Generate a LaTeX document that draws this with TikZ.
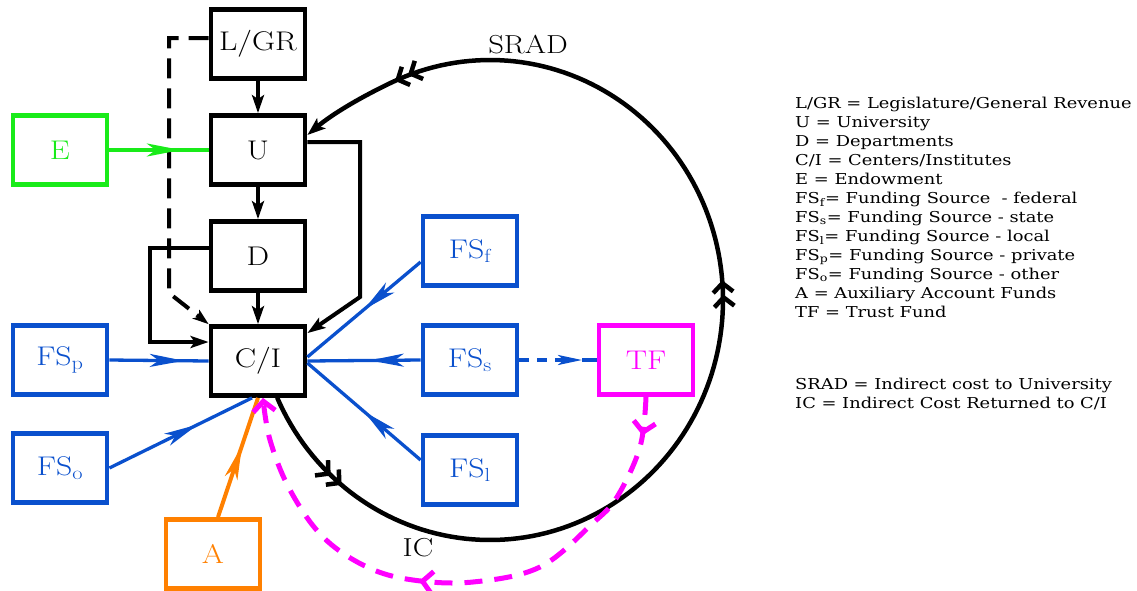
\documentclass[tikz,border=0pt]{standalone}
\usepackage{fontspec}
\usepackage{graphicx}
\usetikzlibrary{arrows.meta,decorations.markings}
\newfontfamily\legfont{DejaVu Serif}
\definecolor{fsblue}{RGB}{10,80,205}
\definecolor{egreen}{RGB}{25,235,25}
\definecolor{aorange}{RGB}{255,128,0}
\definecolor{tfmag}{RGB}{255,0,255}
\newcommand{\widetext}[1]{\scalebox{1.18}[1]{#1}}
\newcommand{\legtext}[1]{\scalebox{1.19}[1]{#1}}
\tikzset{
  box/.style={draw, line width=4.8pt, minimum width=94pt, minimum height=69pt, inner sep=0pt, font=\fontsize{27}{30}\selectfont},
  bluebox/.style={box, draw=fsblue, text=fsblue},
  greenbox/.style={box, draw=egreen, text=egreen},
  orangebox/.style={box, draw=aorange, text=aorange},
  magbox/.style={box, draw=tfmag, text=tfmag},
  conn/.style={line width=4pt},
  blacktip/.style={-{Stealth[length=18pt,width=12pt,inset=4pt]}},
  colconn/.style={line width=3.3pt},
  midarrow/.style={postaction={decorate,decoration={markings,mark=at position #1 with {\arrow{Stealth[length=34pt,width=13pt,inset=9pt]}}}}},
  ellmarks/.style={postaction={decorate,decoration={markings,
     mark=at position 0.09 with {\arrow{Straight Barb[length=9pt,width=20pt]Straight Barb[length=9pt,width=20pt]}},
     mark=at position 0.545 with {\arrow{Straight Barb[length=9pt,width=20pt]Straight Barb[length=9pt,width=20pt]}},
     mark=at position 0.915 with {\arrow{Straight Barb[length=9pt,width=20pt]Straight Barb[length=9pt,width=20pt]}}}}},
  magmarks/.style={postaction={decorate,decoration={markings,
     mark=at position 0.065 with {\arrow{Straight Barb[length=10pt,width=22pt]}},
     mark=at position 0.56 with {\arrow{Straight Barb[length=10pt,width=22pt]}}}}},
  legend/.style={inner sep=0pt, font=\legfont\fontsize{15}{17}\selectfont},
  lbl/.style={inner sep=0pt, font=\fontsize{26}{30}\selectfont},
}
\begin{document}
\begin{tikzpicture}[x=1pt,y=-1pt]
\useasboundingbox (0,0) rectangle (1137,590);

% boxes
\node[box] (LGR) at (258,44) {\widetext{L/GR}};
\node[box] (U) at (258,150) {\widetext{U}};
\node[box] (D) at (258,256) {\widetext{D}};
\node[box] (CI) at (258,361) {\widetext{C/I}};
\node[greenbox] (E) at (60,150) {\widetext{E}};
\node[bluebox] (FSp) at (60,360) {\widetext{FS\textsubscript{p}}};
\node[bluebox] (FSo) at (60,468) {\widetext{FS\textsubscript{o}}};
\node[orangebox] (A) at (213,554) {\widetext{A}};
\node[bluebox] (FSf) at (470,251) {\widetext{FS\textsubscript{f}}};
\node[bluebox] (FSs) at (470,360) {\widetext{FS\textsubscript{s}}};
\node[bluebox] (FSl) at (470,470) {\widetext{FS\textsubscript{l}}};
\node[magbox] (TF) at (646,360) {\widetext{TF}};

% labels
\node[lbl] (srad) at (528,45) {\widetext{SRAD}};
\node[lbl] (ic) at (418,548) {\widetext{IC}};

% coordinates
\coordinate (bendUR) at (360,297);
\coordinate (bendDL) at (150,342);
\coordinate (dashB) at (169,293);
\coordinate (tfm) at (582,360);

% black connectors
\draw[conn, blacktip] (LGR.south) -- (U.north);
\draw[conn, blacktip] (U.south) -- (D.north);
\draw[conn, blacktip] (D.south) -- (CI.north);
\draw[conn, blacktip] ([yshift=8pt]U.east) -| (bendUR) -- ([yshift=-9pt]CI.north east);
\draw[conn, blacktip] ([yshift=8pt]D.west) -| (bendDL) -- ([yshift=19pt]CI.west);
\draw[conn, dash pattern=on 20pt off 10pt, -{Stealth[length=16pt,width=11pt,inset=4pt]}] ([yshift=6pt]LGR.west) -| (dashB) -- (CI.north west);

% coloured inflows
\draw[colconn, egreen, midarrow=0.72] (E.east) -- (U.west);
\draw[colconn, fsblue, midarrow=0.75] (FSp.east) -- (CI.west);
\draw[colconn, fsblue, midarrow=0.62] (FSo.east) -- ([xshift=-6pt]CI.south);
\draw[colconn, line width=4pt, aorange, midarrow=0.6] ([xshift=5pt]A.north) -- (CI.south);
\draw[colconn, fsblue, midarrow=0.5] ([yshift=-11pt]FSf.west) -- ([yshift=4pt]CI.east);
\draw[colconn, fsblue, midarrow=0.45] (FSs.west) -- (CI.east);
\draw[colconn, fsblue, midarrow=0.5] ([yshift=10pt]FSl.west) -- ([yshift=-2pt]CI.east);
\draw[colconn, fsblue, dash pattern=on 10pt off 8pt, -{Stealth[length=24pt,width=10pt,inset=6pt]}] (FSs.east) -- (tfm);
\draw[colconn, fsblue] (tfm) -- (TF.west);

% SRAD / IC loop
\draw[line width=4.5pt, ellmarks, -{Stealth[length=18pt,width=13pt,inset=4pt]}]
  plot[domain=0:271, samples=150] ({490+233*cos(156-\x)},{300+240*sin(156-\x)})
  .. controls (355,100) and (330,116) .. ([yshift=15pt]U.east);

% trust fund dashed return
\draw[line width=5pt, tfmag, dash pattern=on 18pt off 12pt, magmarks, -{Straight Barb[length=10pt,width=22pt]}]
  plot[smooth, tension=0.6] coordinates {(TF.south) (640,447) (617,497) (593,523) (540,567) (473,582) (413,580) (367,567) (323,537) (290,490) (270,440) ([xshift=5pt]CI.south)};

% legend
\foreach \t [count=\i] in {L/GR = Legislature/General Revenue, U = University, D = Departments, C/I = Centers/Institutes, E = Endowment, FS\textsubscript{f}= Funding Source~~- federal, FS\textsubscript{s}= Funding Source - state, FS\textsubscript{l}= Funding Source - local, FS\textsubscript{p}= Funding Source - private, FS\textsubscript{o}= Funding Source - other, A = Auxiliary Account Funds, TF = Trust Fund}
  \node[legend, anchor=base west] (leg\i) at (795,{108+19*(\i-1)}) {\legtext{\t}};
\node[legend, anchor=base west] (leg13) at (795,389) {\legtext{SRAD = Indirect cost to University}};
\node[legend, anchor=base west] (leg14) at (795,408) {\legtext{IC = Indirect Cost Returned to C/I}};
\end{tikzpicture}
\end{document}
